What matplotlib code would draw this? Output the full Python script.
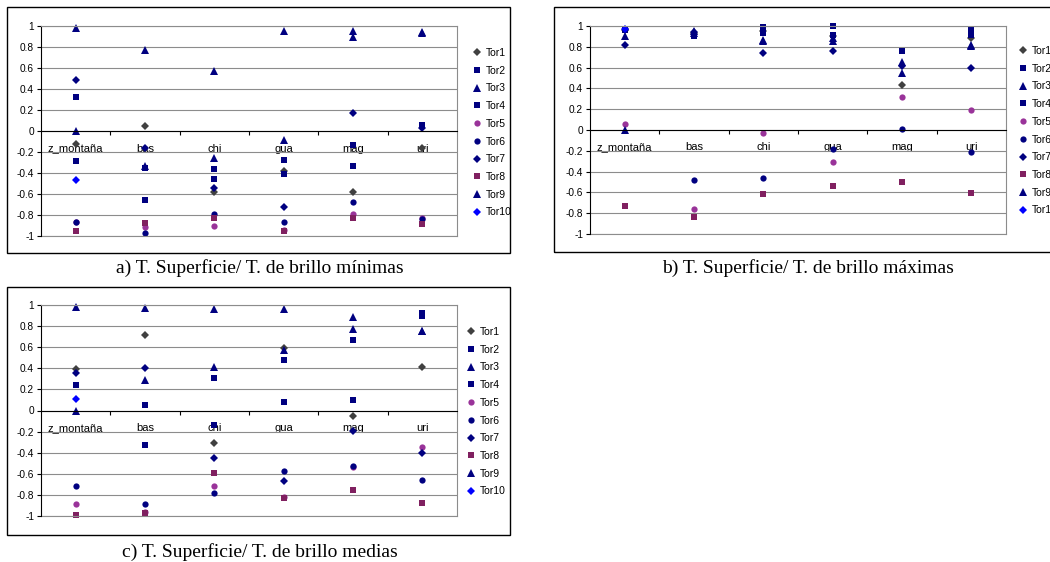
import numpy as np
import matplotlib.pyplot as plt
from matplotlib.patches import Rectangle

nan = np.nan
categories = ["z_montaña", "bas", "chi", "gua", "mag", "uri"]
series_names = ["Tor1", "Tor2", "Tor3", "Tor4", "Tor5", "Tor6", "Tor7", "Tor8", "Tor9", "Tor10"]

# a) minimas
min_tor1 = [-0.12, 0.05, -0.58, -0.38, -0.58, -0.16]
min_tor2 = [0.32, -0.35, -0.36, -0.28, -0.13, 0.06]
min_tor3 = [0.98, 0.77, 0.57, 0.95, 0.95, 0.94]
min_tor4 = [-0.29, -0.66, -0.46, -0.41, -0.33, 0.05]
min_tor5 = [-0.87, -0.91, -0.90, -0.94, -0.79, -0.83]
min_tor6 = [-0.87, -0.97, -0.79, -0.87, -0.68, -0.84]
min_tor7 = [0.49, -0.16, -0.54, -0.72, 0.17, 0.03]
min_tor8 = [-0.95, -0.88, -0.83, -0.95, -0.83, -0.89]
min_tor9 = [0.0, -0.33, -0.26, -0.09, 0.90, 0.93]
min_tor10 = [-0.47, nan, nan, nan, nan, nan]

# b) maximas
max_tor1 = [0.96, 0.93, 0.95, 0.90, 0.43, 0.88]
max_tor2 = [0.97, 0.90, 0.99, 1.00, 0.76, 0.96]
max_tor3 = [0.90, 0.95, 0.86, 0.86, 0.55, 0.81]
max_tor4 = [0.96, 0.91, 0.93, 0.91, 0.76, 0.91]
max_tor5 = [0.06, -0.76, -0.03, -0.31, 0.32, 0.19]
max_tor6 = [0.97, -0.48, -0.46, -0.18, 0.01, -0.21]
max_tor7 = [0.82, 0.94, 0.74, 0.76, 0.62, 0.60]
max_tor8 = [-0.73, -0.84, -0.62, -0.54, -0.50, -0.61]
max_tor9 = [0.0, 0.93, 0.87, 0.88, 0.65, 0.82]
max_tor10 = [0.97, nan, nan, nan, nan, nan]

# c) medias
med_tor1 = [0.39, 0.72, -0.31, 0.59, -0.05, 0.41]
med_tor2 = [0.24, 0.05, 0.31, 0.48, 0.67, 0.92]
med_tor3 = [0.98, 0.97, 0.96, 0.96, 0.89, 0.75]
med_tor4 = [0.24, -0.33, -0.14, 0.08, 0.10, 0.90]
med_tor5 = [-0.89, -0.96, -0.72, -0.82, -0.54, -0.35]
med_tor6 = [-0.72, -0.89, -0.78, -0.57, -0.53, -0.66]
med_tor7 = [0.36, 0.40, -0.45, -0.67, -0.19, -0.40]
med_tor8 = [-0.99, -0.97, -0.59, -0.83, -0.75, -0.88]
med_tor9 = [0.0, 0.29, 0.41, 0.57, 0.77, 0.75]
med_tor10 = [0.11, nan, nan, nan, nan, nan]

minimas = [min_tor1, min_tor2, min_tor3, min_tor4, min_tor5,
           min_tor6, min_tor7, min_tor8, min_tor9, min_tor10]
maximas = [max_tor1, max_tor2, max_tor3, max_tor4, max_tor5,
           max_tor6, max_tor7, max_tor8, max_tor9, max_tor10]
medias = [med_tor1, med_tor2, med_tor3, med_tor4, med_tor5,
          med_tor6, med_tor7, med_tor8, med_tor9, med_tor10]

navy = "#000080"
styles = [
    ("D", "#404040", 4.0),
    ("s", navy, 4.5),
    ("^", navy, 5.5),
    ("s", navy, 4.5),
    ("o", "#993399", 4.5),
    ("o", navy, 4.5),
    ("D", navy, 4.0),
    ("s", "#802060", 4.5),
    ("^", navy, 5.5),
    ("D", "#0000ff", 4.0),
]

W, H = 1050, 562
plt.rcParams["font.family"] = ["Liberation Sans", "DejaVu Sans"]
fig = plt.figure(figsize=(W / 100, H / 100), dpi=100)


def px_rect(left, top, right, bottom):
    return [left / W, 1 - bottom / H, (right - left) / W, (bottom - top) / H]


def tick_text(v):
    v = 0.0 if abs(v) < 1e-9 else v
    return f"{v:g}"


def draw_panel(box, plot, legend_xy, data, caption, caption_xy):
    # outer chart frame
    fig.patches.append(Rectangle((box[0] / W, 1 - box[3] / H),
                                 (box[2] - box[0]) / W, (box[3] - box[1]) / H,
                                 transform=fig.transFigure, fill=False,
                                 edgecolor="black", linewidth=1.0))
    ax = fig.add_axes(px_rect(*plot))
    x = np.arange(len(categories))
    handles = []
    for vals, name, (m, c, ms) in zip(data, series_names, styles):
        h, = ax.plot(x, vals, linestyle="none", marker=m, color=c,
                     markersize=ms, markeredgewidth=0, label=name, clip_on=False)
        handles.append(h)

    ax.set_xlim(-0.5, len(categories) - 0.5)
    ax.set_ylim(-1, 1)
    yt = np.round(np.arange(-1, 1.01, 0.2), 1)
    ax.set_yticks(yt)
    ax.set_yticklabels([tick_text(v) for v in yt])
    ax.yaxis.grid(True, color="#8c8c8c", linewidth=0.8)
    ax.set_axisbelow(True)
    ax.tick_params(axis="y", direction="out", length=3, width=0.8,
                   labelsize=7.3, pad=2)

    ax.spines["bottom"].set_position(("data", 0))
    ax.spines["bottom"].set_color("black")
    ax.spines["left"].set_color("black")
    for s in ("top", "right"):
        ax.spines[s].set_color("#8c8c8c")
        ax.spines[s].set_linewidth(0.8)
    ax.set_xticks(np.arange(0.5, len(categories) - 1, 1.0))
    ax.set_xticklabels([])
    ax.tick_params(axis="x", which="major", direction="out", length=3, width=0.8)
    ax.set_xticks(x, minor=True)
    ax.set_xticklabels(categories, minor=True)
    ax.tick_params(axis="x", which="minor", length=0, labelsize=8, pad=9)
    # bottom border line at -1
    ax.axhline(-1, color="#8c8c8c", linewidth=0.8, clip_on=False)

    ax.legend(handles=handles, loc="upper left",
              bbox_to_anchor=(legend_xy[0] / W, 1 - legend_xy[1] / H),
              bbox_transform=fig.transFigure, frameon=False, fontsize=7.5,
              handlelength=0.8, handletextpad=0.4, labelspacing=0.74,
              borderpad=0, borderaxespad=0)

    fig.text(caption_xy[0] / W, 1 - caption_xy[1] / H, caption,
             ha="center", va="center", fontsize=14,
             family=["Liberation Serif", "DejaVu Serif"])
    return ax


draw_panel((7, 7, 510, 253), (41, 26, 457, 236), (473, 48), minimas,
           "a) T. Superficie/ T. de brillo mínimas", (260, 268))
draw_panel((554, 7, 1060, 252), (590, 26, 1006, 234), (1019, 46), maximas,
           "b) T. Superficie/ T. de brillo máximas", (808, 268))
draw_panel((7, 287, 510, 535), (41, 305, 457, 516), (467, 327), medias,
           "c) T. Superficie/ T. de brillo medias", (260, 552))

fig.savefig("out.png", dpi=100)
